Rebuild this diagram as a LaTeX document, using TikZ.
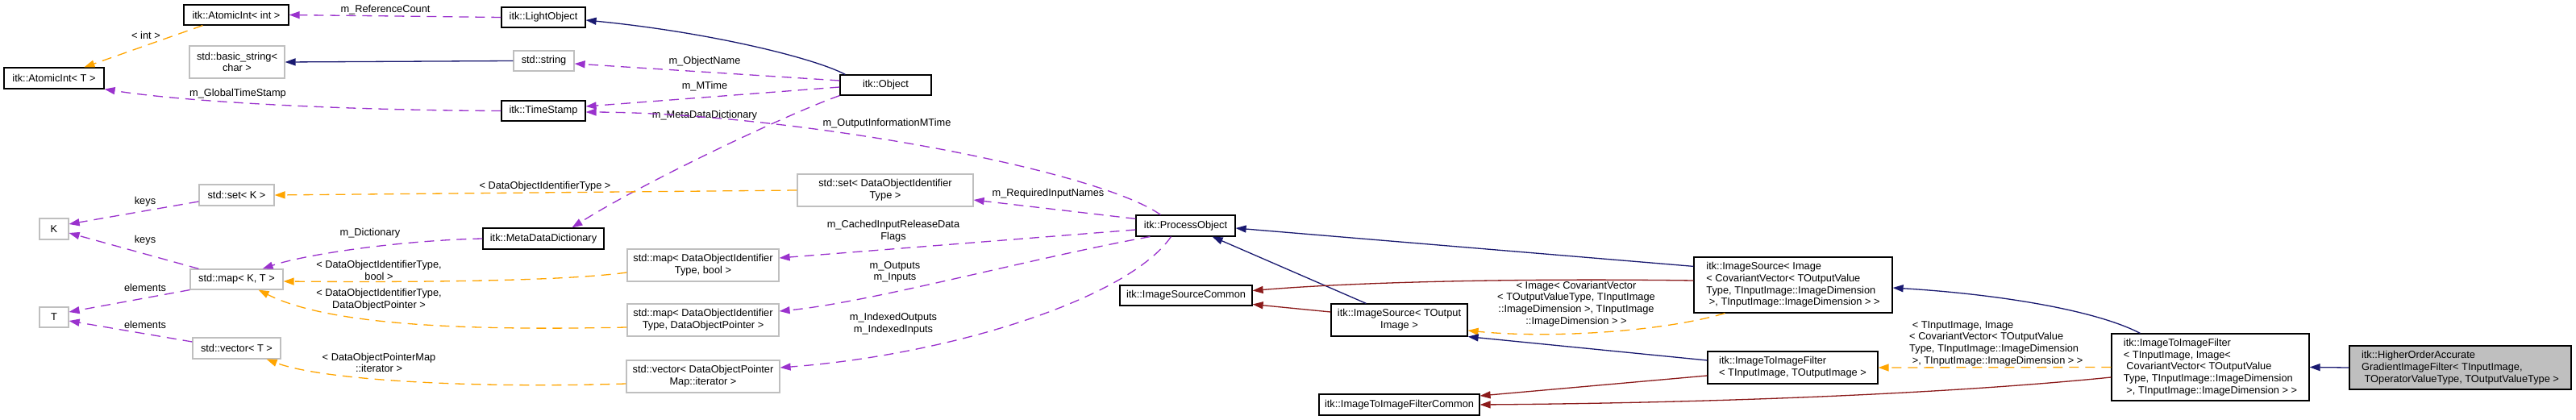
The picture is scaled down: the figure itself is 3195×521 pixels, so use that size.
\documentclass[tikz,border=0pt]{standalone}
\usepackage{fontspec}
\setmainfont{Liberation Sans}
\usetikzlibrary{arrows.meta}
\definecolor{inhblue}{HTML}{191970}
\definecolor{usepurple}{HTML}{9A32CD}
\definecolor{tmplorange}{HTML}{FFA500}
\definecolor{privred}{HTML}{8B1A1A}
\definecolor{extgray}{HTML}{BFBFBF}

\begin{document}
\begin{tikzpicture}[x=1pt, y=-1pt,
    every node/.style={font=\fontsize{12.8}{14.7}\selectfont, inner sep=0pt},
    cls/.style={rectangle, draw=black, fill=white, line width=1.2pt, align=center},
    ext/.style={rectangle, draw=extgray, fill=white, line width=1.2pt, align=center},
    lbl/.style={align=center},
    tip/.style={-{Triangle[length=13pt,width=9pt]}, line width=1.3pt},
    inh/.style={tip, inhblue},
    priv/.style={tip, privred},
    usage/.style={tip, usepurple, dash pattern=on 12pt off 8pt},
    tmpl/.style={tip, tmplorange, dash pattern=on 12pt off 8pt}
]
\path[use as bounding box, fill=white] (0,0) rectangle (3195,521);

\node[cls, minimum width=130pt, minimum height=25pt] (aint) at (293,18.5) {itk::AtomicInt< int >};
\node[ext, minimum width=118pt, minimum height=40pt] (bstr) at (294,77) {std::basic\_string<\\char >};
\node[cls, minimum width=124pt, minimum height=26pt] (aT) at (67,97) {itk::AtomicInt< T >};
\node[ext, minimum width=93pt, minimum height=26pt] (setK) at (293.5,242) {std::set< K >};
\node[ext, minimum width=36pt, minimum height=26pt] (K) at (67,284) {K};
\node[ext, minimum width=115pt, minimum height=25pt] (mapKT) at (293.5,346.5) {std::map< K, T >};
\node[ext, minimum width=36pt, minimum height=25pt] (T) at (67,393.5) {T};
\node[ext, minimum width=109pt, minimum height=26pt] (vecT) at (293.5,432) {std::vector< T >};
\node[cls, minimum width=104pt, minimum height=25pt] (lobj) at (674,21.5) {itk::LightObject};
\node[ext, minimum width=75pt, minimum height=25pt] (str) at (674.5,75.5) {std::string};
\node[cls, minimum width=104pt, minimum height=25pt] (tstamp) at (674,137.5) {itk::TimeStamp};
\node[cls, minimum width=150pt, minimum height=26pt] (mdd) at (674,296) {itk::MetaDataDictionary};
\node[cls, minimum width=113pt, minimum height=25pt] (obj) at (1098.5,105.5) {itk::Object};
\node[ext, minimum width=218pt, minimum height=40pt] (setD) at (1098,236) {std::set< DataObjectIdentifier\\Type >};
\node[ext, minimum width=188pt, minimum height=40pt] (mapB) at (872,329) {std::map< DataObjectIdentifier\\Type, bool >};
\node[ext, minimum width=188pt, minimum height=40pt] (mapP) at (872,397) {std::map< DataObjectIdentifier\\Type, DataObjectPointer >};
\node[ext, minimum width=190pt, minimum height=40pt] (vecP) at (872,467) {std::vector< DataObjectPointer\\Map::iterator >};
\node[cls, minimum width=123pt, minimum height=26pt] (pobj) at (1470.5,280) {itk::ProcessObject};
\node[cls, minimum width=164pt, minimum height=25pt] (isc) at (1471,366.5) {itk::ImageSourceCommon};
\node[cls, minimum width=169pt, minimum height=40pt] (isrc) at (1735.5,397) {itk::ImageSource< TOutput\\Image >};
\node[cls, minimum width=199pt, minimum height=26pt] (itifc) at (1735.5,502) {itk::ImageToImageFilterCommon};
\node[cls, minimum width=246pt, minimum height=69pt, align=left] (isimg) at (2224,353.5) {itk::ImageSource< Image\\< CovariantVector< TOutputValue\\Type, TInputImage::ImageDimension\\~>, TInputImage::ImageDimension > >};
\node[cls, minimum width=211pt, minimum height=40pt, align=left] (itif) at (2223.5,456) {itk::ImageToImageFilter\\< TInputImage, TOutputImage >};
\node[cls, minimum width=245pt, minimum height=83pt, align=left] (itifimg) at (2741.5,455.5) {itk::ImageToImageFilter\\< TInputImage, Image<\\~CovariantVector< TOutputValue\\Type, TInputImage::ImageDimension\\~>, TInputImage::ImageDimension > >};
\node[cls, fill=extgray, minimum width=275pt, minimum height=54pt, align=left] (hoa) at (3051.5,456) {itk::HigherOrderAccurate\\GradientImageFilter< TInputImage,\\~TOperatorValueType, TOutputValueType >};

\node[lbl] (lint) at (181,44) {< int >};
\node[lbl] (lref) at (478,12) {m\_ReferenceCount};
\node[lbl] (lgts) at (295,116) {m\_GlobalTimeStamp};
\node[lbl] (lkeysA) at (180,250) {keys};
\node[lbl] (lkeysB) at (180,298) {keys};
\node[lbl] (lelemA) at (180,357) {elements};
\node[lbl] (lelemB) at (180,403) {elements};
\node[lbl] (ldict) at (459,289) {m\_Dictionary};
\node[lbl] (lsetD) at (676,231) {< DataObjectIdentifierType >};
\node[lbl] (lmapB) at (470,335.5) {< DataObjectIdentifierType,\\bool >};
\node[lbl] (lmapP) at (470,371.5) {< DataObjectIdentifierType,\\DataObjectPointer >};
\node[lbl] (lvecP) at (470,450) {< DataObjectPointerMap\\::iterator >};
\node[lbl] (lname) at (874,76) {m\_ObjectName};
\node[lbl] (lmtime) at (874,107) {m\_MTime};
\node[lbl] (lmdd) at (874,143) {m\_MetaDataDictionary};
\node[lbl] (loim) at (1100,153) {m\_OutputInformationMTime};
\node[lbl] (lreq) at (1300,240) {m\_RequiredInputNames};
\node[lbl] (lcache) at (1108,287) {m\_CachedInputReleaseData\\Flags};
\node[lbl] (lio) at (1110,337.5) {m\_Outputs\\m\_Inputs};
\node[lbl] (lidx) at (1108,402) {m\_IndexedOutputs\\m\_IndexedInputs};
\node[lbl] (lisimg) at (1955,377) {< Image< CovariantVector\\< TOutputValueType, TInputImage\\::ImageDimension >, TInputImage\\::ImageDimension > >};
\node[lbl, align=left, anchor=west] (litif) at (2368,426) {~< TInputImage, Image\\< CovariantVector< TOutputValue\\Type, TInputImage::ImageDimension\\~>, TInputImage::ImageDimension > >};

\draw[tmpl] ([xshift=24pt]aint.south west) -- ([xshift=100pt]aT.north west);
\draw[usage] (lobj.west) -- (aint.east);
\draw[inh] ([xshift=7pt]obj.north west) .. controls (1010,72) and (880,40) .. ([yshift=-3.5pt]lobj.east);
\draw[inh] (str.west) -- (bstr.east);
\draw[usage] ([yshift=5.5pt]obj.west) -- ([yshift=-3.5pt]str.east);
\draw[usage] ([yshift=-2.5pt]obj.west) -- ([yshift=5.5pt]tstamp.east);
\draw[usage] (tstamp.west) .. controls (450,137) and (240,128) .. (aT.south east);
\draw[usage] ([xshift=31pt]pobj.north west) .. controls (1360,210) and (980,140) .. ([yshift=-1.5pt]tstamp.east);
\draw[usage] (obj.south west) .. controls (980,140) and (800,225) .. ([xshift=111pt]mdd.north west);
\draw[usage] (mdd.west) .. controls (500,298) and (380,315) .. ([xshift=-26pt]mapKT.north east);
\draw[usage] ([yshift=-8pt]setK.west) -- ([yshift=6pt]K.east);
\draw[usage] ([xshift=11pt]mapKT.north west) -- ([yshift=-5pt]K.east);
\draw[usage] (mapKT.south west) -- ([yshift=6.5pt]T.east);
\draw[usage] ([yshift=8pt]vecT.west) -- ([yshift=-4.5pt]T.east);
\draw[tmpl] (setD.west) -- (setK.east);
\draw[usage] ([yshift=-5pt]pobj.north west) -- ([yshift=-12pt]setD.east);
\draw[tmpl] ([yshift=-9pt]mapB.west) .. controls (690,350) and (480,350) .. ([yshift=-2.5pt]mapKT.east);
\draw[tmpl] ([yshift=-9pt]mapP.west) .. controls (590,410) and (410,405) .. ([xshift=-31pt]mapKT.south east);
\draw[tmpl] ([yshift=-9pt]vecP.west) .. controls (590,482) and (400,472) .. ([xshift=-18pt]vecT.south east);
\draw[usage] ([yshift=-5pt]pobj.west) -- ([yshift=9pt]mapB.east);
\draw[usage] ([xshift=18pt]pobj.south west) .. controls (1280,320) and (1080,375) .. ([yshift=11pt]mapP.east);
\draw[usage] ([xshift=44pt]pobj.south west) .. controls (1400,370) and (1180,440) .. ([yshift=11pt]vecP.east);
\draw[inh] ([xshift=44pt]isrc.north west) -- ([xshift=-29pt]pobj.south east);
\draw[priv] ([yshift=10pt]isrc.west) -- ([yshift=-11pt]isc.east);
\draw[inh] ([yshift=-12pt]isimg.north west) -- ([yshift=-3pt]pobj.east);
\draw[priv] ([yshift=5.5pt]isimg.west) .. controls (1880,345) and (1680,350) .. ([yshift=6pt]isc.east);
\draw[tmpl] ([xshift=39pt]isimg.south west) .. controls (2060,412) and (1920,420) .. ([yshift=-13pt]isrc.east);
\draw[inh] ([yshift=9pt]itif.west) -- (isrc.south east);
\draw[priv] ([yshift=-10pt]itif.west) -- ([yshift=11pt]itifc.east);
\draw[inh] ([xshift=36pt]itifimg.north west) .. controls (2600,385) and (2480,365) .. ([yshift=-3.5pt]isimg.east);
\draw[tmpl] (itifimg.west) -- (itif.east);
\draw[priv] ([yshift=-12.5pt]itifimg.west) .. controls (2400,490) and (2100,500) .. (itifc.east);
\draw[inh] (hoa.west) -- (itifimg.east);
\end{tikzpicture}
\end{document}
